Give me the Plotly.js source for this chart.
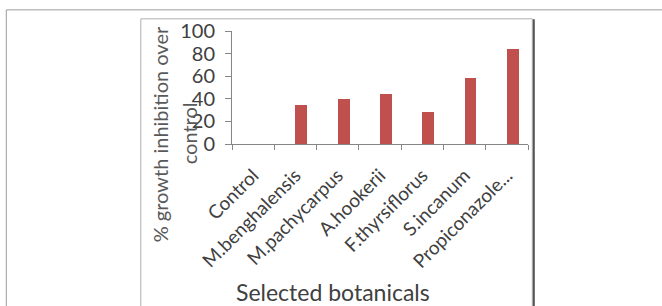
<!DOCTYPE html>
<html>
<head>
<meta charset="utf-8">
<script src="https://cdn.plot.ly/plotly-3.0.1.min.js"></script>
<style>
html,body{margin:0;padding:0;background:#fff;}
#chart{width:662px;height:306px;}
</style>
</head>
<body>
<div id="chart"></div>
<script>
var categories = ["Control", "M.benghalensis", "M.pachycarpus", "A.hookerii", "F.thyrsiflorus", "S.incanum", "Propiconazole..."];
var inhibition = [0, 34.5, 39.5, 44.5, 28.5, 58, 84];
var yTicks = [0, 20, 40, 60, 80, 100];
var yTitleLine1 = "% growth inhibition over";
var yTitleLine2 = "control";
var xTitle = "Selected botanicals";

var W = 662, H = 306;
var L = 231.7, R = 527.7, T = 30.7, B = 144;
function px(x){ return (x - L) / (R - L); }
function py(y){ return (B - y) / (B - T); }

var FONT = "Lato, 'Liberation Sans', sans-serif";
var TXT = "#404040";

var trace = {
  type: "bar",
  x: categories,
  y: inhibition,
  width: 0.28,
  offset: 0,
  marker: {color: "#C0504D", line: {width: 0}},
  hoverinfo: "none"
};

var layout = {
  width: W, height: H,
  margin: {l: L, r: W - R, t: T, b: H - B, pad: 0},
  paper_bgcolor: "#fff",
  plot_bgcolor: "#fff",
  showlegend: false,
  bargap: 0,
  xaxis: {
    type: "category",
    range: [-0.5, categories.length - 0.5],
    showline: true, linecolor: "#868686", linewidth: 1,
    ticks: "outside", tickson: "boundaries", ticklen: 5, tickcolor: "#868686",
    tickangle: -45,
    tickfont: {family: FONT, size: 19, color: TXT},
    ticklabelstandoff: 12,
    showgrid: false, zeroline: false, fixedrange: true
  },
  yaxis: {
    range: [0, 100],
    tickvals: yTicks,
    showline: true, linecolor: "#868686", linewidth: 1,
    ticks: "outside", ticklen: 6, tickcolor: "#868686",
    tickfont: {family: FONT, size: 20, color: TXT},
    ticklabelstandoff: 6,
    showgrid: false, zeroline: false, fixedrange: true
  },
  shapes: [
    {type: "rect", xref: "paper", yref: "paper",
     x0: px(6), x1: px(680), y0: py(9.5), y1: py(330),
     line: {color: "#9a9a9a", width: 1}, layer: "below"},
    {type: "rect", xref: "paper", yref: "paper",
     x0: px(140.5), x1: px(532), y0: py(18.5), y1: py(330),
     line: {color: "#b0b0b0", width: 1}, layer: "below"},
    {type: "line", xref: "paper", yref: "paper",
     x0: px(533.5), x1: px(533.5), y0: py(19), y1: py(330),
     line: {color: "#555", width: 2}, layer: "below"}
  ],
  annotations: [
    {text: yTitleLine1, xref: "paper", yref: "paper", x: px(160), y: py(134),
     xanchor: "center", yanchor: "middle", textangle: -90, showarrow: false,
     font: {family: FONT, size: 20, color: "#595959"}},
    {text: yTitleLine2, xref: "paper", yref: "paper", x: px(189), y: py(133),
     xanchor: "center", yanchor: "middle", textangle: -90, showarrow: false,
     font: {family: FONT, size: 20, color: "#595959"}},
    {text: xTitle, xref: "paper", yref: "paper", x: px(333), y: py(292),
     xanchor: "center", yanchor: "middle", showarrow: false,
     font: {family: FONT, size: 23, color: TXT}}
  ]
};

Plotly.newPlot("chart", [trace], layout, {displayModeBar: false, staticPlot: true});
</script>
</body>
</html>
